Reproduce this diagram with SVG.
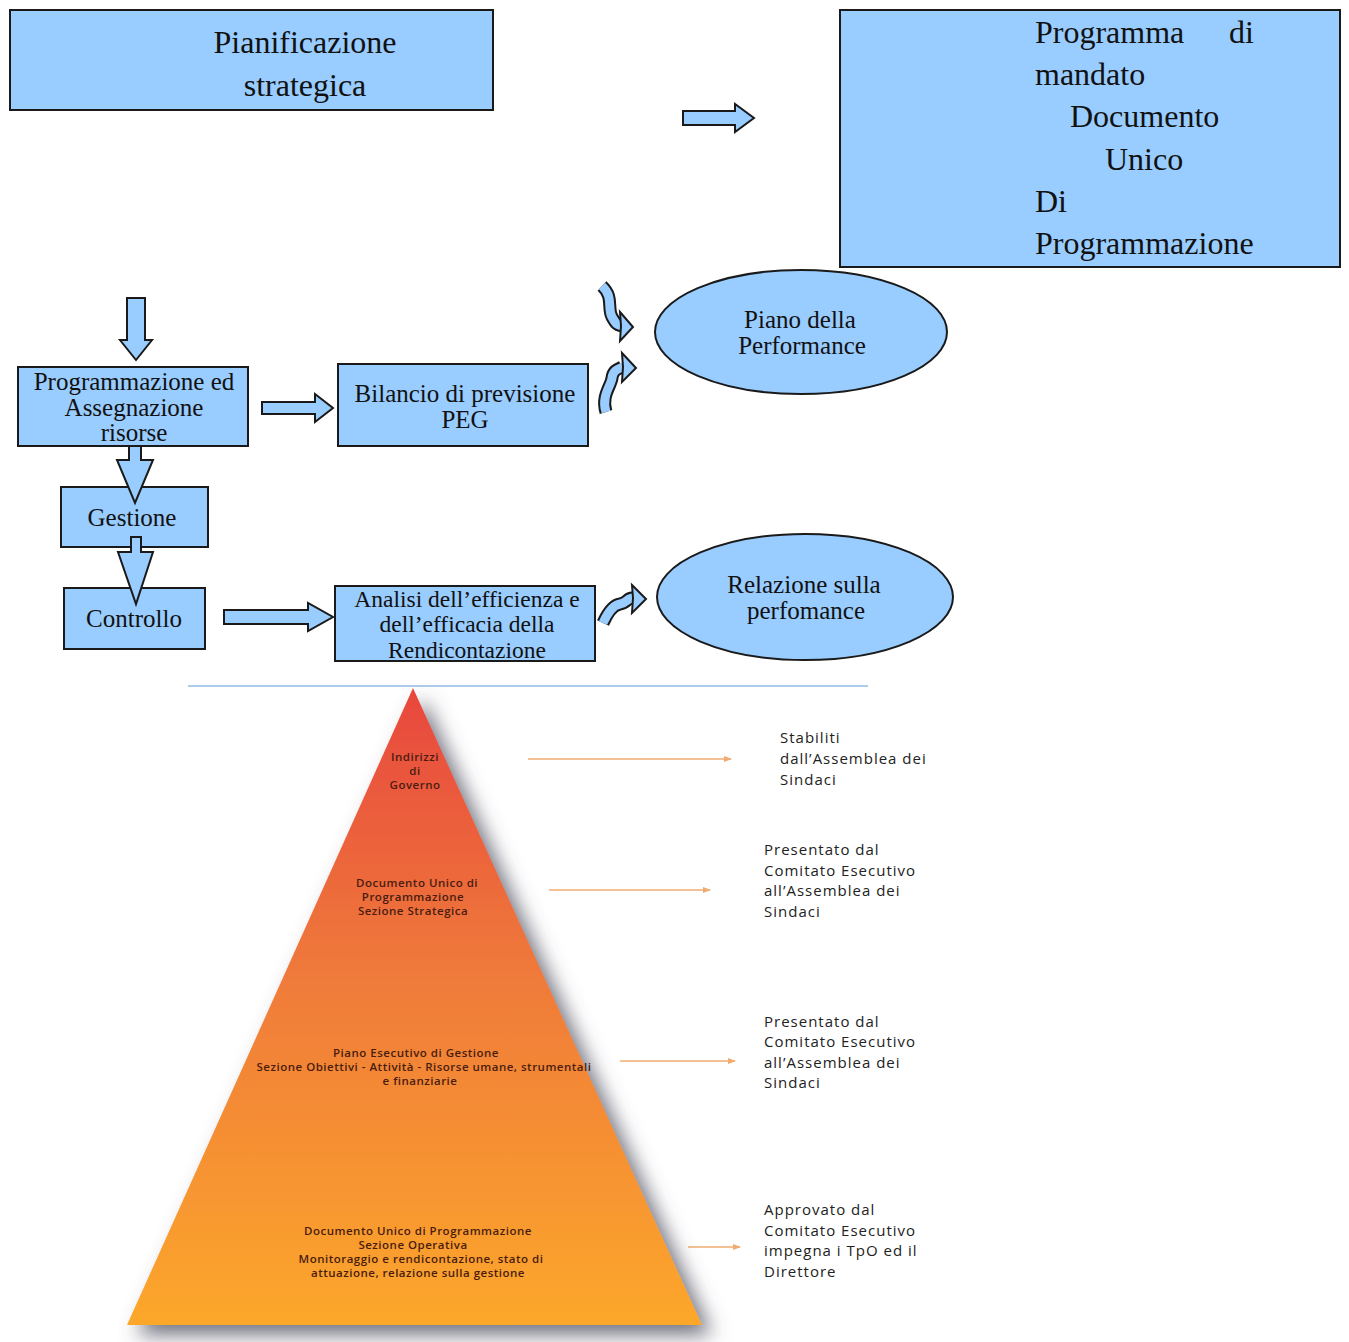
<svg xmlns="http://www.w3.org/2000/svg" width="1349" height="1342" viewBox="0 0 1349 1342">
<defs>
<style>
.box{fill:#99ccff;stroke:#1a1a1a;stroke-width:2}
.ser{font-family:"Liberation Serif","Times New Roman",serif;fill:#111;}
.t32{font-size:32px}
.t24{font-size:25px;text-anchor:middle}
.t23{font-size:23.5px;text-anchor:middle}
.arr{fill:#99ccff;stroke:#1a1a1a;stroke-width:2;stroke-linejoin:miter}
.cb{fill:none;stroke:#1a1a1a;stroke-width:13;stroke-linecap:butt}
.cf{fill:none;stroke:#99ccff;stroke-width:9;stroke-linecap:butt}
.py{font-family:"Open Sans","Liberation Sans",sans-serif;font-size:11.5px;font-weight:600;letter-spacing:0.5px;fill:#4a1c10;text-anchor:middle}
.rt{font-family:"Open Sans","Liberation Sans",sans-serif;font-size:15px;fill:#222;letter-spacing:1px}
.oa{stroke:#f0ac70;stroke-width:1.5;fill:none;marker-end:url(#oh)}
</style>
<marker id="oh" markerWidth="8" markerHeight="6" refX="7" refY="3" orient="auto" markerUnits="userSpaceOnUse">
<path d="M0,0 L8,3 L0,6 Z" fill="#f0ac70"/>
</marker>
<linearGradient id="pg" x1="0" y1="0" x2="0" y2="1">
<stop offset="0" stop-color="#e8473d"/>
<stop offset="0.45" stop-color="#ef7a3a"/>
<stop offset="1" stop-color="#fca72b"/>
</linearGradient>
<filter id="sh" x="-20%" y="-10%" width="140%" height="130%">
<feDropShadow dx="10" dy="10" stdDeviation="10" flood-color="#505060" flood-opacity="0.8"/>
</filter>
</defs>

<g id="pianificazione">
<rect class="box" x="10" y="10" width="483" height="100"/>
<text class="ser t32" x="305" y="53" text-anchor="middle">Pianificazione</text>
<text class="ser t32" x="305" y="96" text-anchor="middle">strategica</text>
</g>

<g id="programma">
<rect class="box" x="840" y="10" width="500" height="257"/>
<text class="ser t32" x="1035" y="43">Programma</text>
<text class="ser t32" x="1229" y="43">di</text>
<text class="ser t32" x="1035" y="85">mandato</text>
<text class="ser t32" x="1070" y="127">Documento</text>
<text class="ser t32" x="1105" y="170">Unico</text>
<text class="ser t32" x="1035" y="212">Di</text>
<text class="ser t32" x="1035" y="254">Programmazione</text>
</g>

<g id="programmazione-risorse">
<rect class="box" x="18" y="367" width="230" height="79"/>
<text class="ser t24" x="134" y="390">Programmazione ed</text>
<text class="ser t24" x="134" y="416">Assegnazione</text>
<text class="ser t24" x="134" y="441">risorse</text>
</g>

<g id="bilancio">
<rect class="box" x="338" y="364" width="250" height="82"/>
<text class="ser t24" x="465" y="402">Bilancio di previsione</text>
<text class="ser t24" x="465" y="428">PEG</text>
</g>

<g id="piano-performance">
<ellipse class="box" cx="801" cy="332" rx="146" ry="62"/>
<text class="ser t24" x="800" y="328">Piano della</text>
<text class="ser t24" x="802" y="354">Performance</text>
</g>

<g id="gestione">
<rect class="box" x="61" y="487" width="147" height="60"/>
<text class="ser t24" x="132" y="526">Gestione</text>
</g>

<g id="controllo">
<rect class="box" x="64" y="588" width="141" height="61"/>
<text class="ser t24" x="134" y="627">Controllo</text>
</g>

<g id="analisi">
<rect class="box" x="335" y="586" width="260" height="75"/>
<text class="ser t23" x="467" y="607">Analisi dell’efficienza e</text>
<text class="ser t23" x="467" y="632">dell’efficacia della</text>
<text class="ser t23" x="467" y="658">Rendicontazione</text>
</g>

<g id="relazione-performance">
<ellipse class="box" cx="805" cy="597" rx="148" ry="63"/>
<text class="ser t24" x="804" y="593">Relazione sulla</text>
<text class="ser t24" x="806" y="619">perfomance</text>
</g>

<g id="connectors">
<polygon class="arr" points="683,111 735,111 735,104 754,118 735,132 735,125 683,125"/>
<polygon class="arr" points="127,298 145,298 145,340 152,340 136,360 120,340 127,340"/>
<polygon class="arr" points="262,402 315,402 315,394 333,408 315,422 315,414 262,414"/>
<polygon class="arr" points="129,446 141,446 141,460 153,460 135,503 117,460 129,460"/>
<polygon class="arr" points="131,537 141,537 141,552 153,552 136,604 118,552 131,552"/>
<polygon class="arr" points="224,610 308,610 308,603 333,617 308,631 308,624 224,624"/>
<path class="cb" d="M602 286 C 614 297, 607 308, 612 317 S 618 325, 622 326"/>
<path class="cf" d="M602 286 C 614 297, 607 308, 612 317 S 618 325, 623 326"/>
<polygon class="arr" points="620,312 633,327 620,341 621,326"/>
<path class="cb" d="M606 412 C 601 396, 611 386, 612 378 S 618 369, 622 367"/>
<path class="cf" d="M606 412 C 601 396, 611 386, 612 378 S 618 369, 623 367"/>
<polygon class="arr" points="622,353 636,368 622,382 623,367"/>
<path class="cb" d="M603 623 C 608 612, 613 605, 620 604 S 627 598, 632 598"/>
<path class="cf" d="M603 623 C 608 612, 613 605, 620 604 S 627 598, 633 598"/>
<polygon class="arr" points="632,585 646,599 632,613 633,598"/>
<line x1="188" y1="686" x2="868" y2="686" stroke="#5b9bd5" stroke-width="1.2"/>
<line class="oa" x1="528" y1="759" x2="731" y2="759"/>
<line class="oa" x1="549" y1="890" x2="710" y2="890"/>
<line class="oa" x1="620" y1="1061" x2="735" y2="1061"/>
<line class="oa" x1="688" y1="1247" x2="740" y2="1247"/>
</g>

<g id="piramide">
<polygon points="413,688 702,1325 127,1325" fill="url(#pg)" filter="url(#sh)"/>
<text class="py"><tspan x="415" y="761">Indirizzi</tspan><tspan x="415" y="775">di</tspan><tspan x="415" y="789">Governo</tspan></text>
<text class="py"><tspan x="417" y="887">Documento Unico di</tspan><tspan x="413" y="901">Programmazione</tspan><tspan x="413" y="915">Sezione Strategica</tspan></text>
<text class="py"><tspan x="416" y="1057">Piano Esecutivo di Gestione</tspan><tspan x="424" y="1071">Sezione Obiettivi - Attività -  Risorse umane, strumentali</tspan><tspan x="420" y="1085">e finanziarie</tspan></text>
<text class="py"><tspan x="418" y="1235">Documento Unico di Programmazione</tspan><tspan x="413" y="1249">Sezione Operativa</tspan><tspan x="421" y="1263">Monitoraggio e rendicontazione, stato di</tspan><tspan x="418" y="1277">attuazione, relazione sulla  gestione</tspan></text>
</g>

<g id="note-1">
<text class="rt"><tspan x="780" y="743">Stabiliti</tspan><tspan x="780" y="764">dall’Assemblea dei</tspan><tspan x="780" y="785">Sindaci</tspan></text>
</g>
<g id="note-2">
<text class="rt"><tspan x="764" y="855">Presentato dal</tspan><tspan x="764" y="876">Comitato Esecutivo</tspan><tspan x="764" y="896">all’Assemblea dei</tspan><tspan x="764" y="917">Sindaci</tspan></text>
</g>
<g id="note-3">
<text class="rt"><tspan x="764" y="1027">Presentato dal</tspan><tspan x="764" y="1047">Comitato Esecutivo</tspan><tspan x="764" y="1068">all’Assemblea dei</tspan><tspan x="764" y="1088">Sindaci</tspan></text>
</g>
<g id="note-4">
<text class="rt"><tspan x="764" y="1215">Approvato dal</tspan><tspan x="764" y="1236">Comitato Esecutivo</tspan><tspan x="764" y="1256">impegna i TpO ed il</tspan><tspan x="764" y="1277">Direttore</tspan></text>
</g>
</svg>
